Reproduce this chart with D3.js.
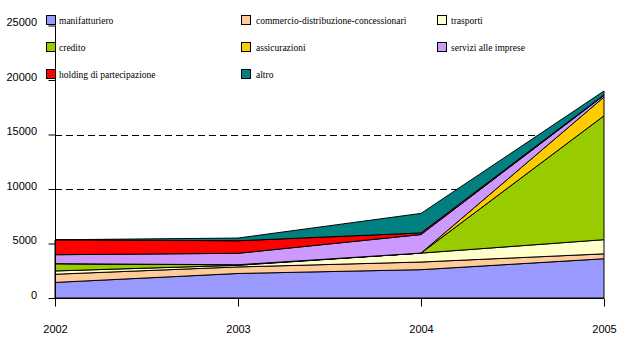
<!DOCTYPE html>
<html><head><meta charset="utf-8">
<script src="https://cdn.jsdelivr.net/npm/d3@7"></script>
<style>body{margin:0;background:#fff}svg{display:block}</style>
</head><body><svg id="c" width="623" height="360"></svg>
<script>
const years = [2002, 2003, 2004, 2005];
const manifatturiero = [1430, 2250, 2600, 3600];
const commercio = [750, 600, 700, 450];
const trasporti = [300, 150, 820, 1300];
const credito = [670, 50, 0, 11370];
const assicurazioni = [0, 0, 0, 1720];
const servizi = [820, 1050, 1700, 150];
const holding = [1370, 1150, 150, 50];
const altro = [0, 250, 1790, 350];
const seriesNames = ["manifatturiero","commercio-distribuzione-concessionari","trasporti","credito","assicurazioni","servizi alle imprese","holding di partecipazione","altro"];
const seriesValues = [manifatturiero, commercio, trasporti, credito, assicurazioni, servizi, holding, altro];
const colors = ["#9999FF","#FFCC99","#FFFFCC","#99CC00","#FFCC00","#CC99FF","#FF0000","#008080"];
const yTicks = [0, 5000, 10000, 15000, 20000, 25000];

const svg = d3.select("#c");
const x = d3.scaleLinear().domain([2002, 2005]).range([55, 604]);
const y = d3.scaleLinear().domain([0, 25000]).range([298, 25.5]);

const table = years.map((yr, i) => {
  const o = {year: yr};
  seriesNames.forEach((n, j) => o[n] = seriesValues[j][i]);
  return o;
});
const stack = d3.stack().keys(seriesNames)(table);

// gridlines
svg.append("g").selectAll("line").data(yTicks.filter(v => v > 0)).join("line")
  .attr("x1", x(2002)).attr("x2", x(2005))
  .attr("y1", d => Math.round(y(d)) + 0.5).attr("y2", d => Math.round(y(d)) + 0.5)
  .attr("stroke", "#000").attr("stroke-dasharray", "7,4");

const area = d3.area().x(d => x(d.data.year)).y0(d => y(d[0])).y1(d => y(d[1]));
svg.append("g").selectAll("path").data(stack).join("path")
  .attr("d", area).attr("fill", (d, i) => colors[i])
  .attr("stroke", "#000").attr("stroke-width", 1);

// legend
const lg = svg.append("g");
lg.append("rect").attr("x", 40).attr("y", 6).attr("width", 578).attr("height", 82).attr("fill", "#fff");
const colX = [46, 241, 437], txtX = [59, 256, 451], rowY = [15, 42, 69];
seriesNames.forEach((n, i) => {
  const c = i % 3, r = Math.floor(i / 3);
  lg.append("rect").attr("x", colX[c] + 0.5).attr("y", rowY[r] + 0.5).attr("width", 9).attr("height", 9)
    .attr("fill", colors[i]).attr("stroke", "#000");
  lg.append("text").attr("x", txtX[c]).attr("y", rowY[r] + 9)
    .attr("font-family", "'Liberation Serif', 'Times New Roman', serif").attr("font-size", "9.5px")
    .attr("fill", "#000").text(n);
});

// axes
const yAxis = svg.append("g").attr("transform", "translate(55.5,0)")
  .call(d3.axisLeft(y).tickValues(yTicks).tickSize(7).tickPadding(0).tickFormat(d3.format("d")));
yAxis.selectAll("text").remove();
yAxis.select(".domain").attr("d", `M0,${y(25000)}V${y(0)}`).attr("stroke","#000");
yAxis.selectAll(".tick line").attr("stroke","#000");
svg.append("g").selectAll("text").data(yTicks).join("text")
  .attr("x", 37).attr("y", d => y(d) - 3).attr("dy", "0.35em").attr("text-anchor", "end")
  .attr("font-family", "'Liberation Sans', Arial, sans-serif").attr("font-size", "11px").text(d => d);

const xAxis = svg.append("g").attr("transform", "translate(0,298.5)")
  .call(d3.axisBottom(x).tickValues(years).tickSize(8).tickFormat(d3.format("d")));
xAxis.select(".domain").attr("d", `M${x(2002)},0H${x(2005)}`).attr("stroke","#000");
xAxis.selectAll(".tick line").attr("stroke","#000");
xAxis.selectAll("text").attr("y", 31).attr("dy","0.35em")
  .attr("font-family", "'Liberation Sans', Arial, sans-serif").attr("font-size", "11px").attr("fill","#000");
</script></body></html>
